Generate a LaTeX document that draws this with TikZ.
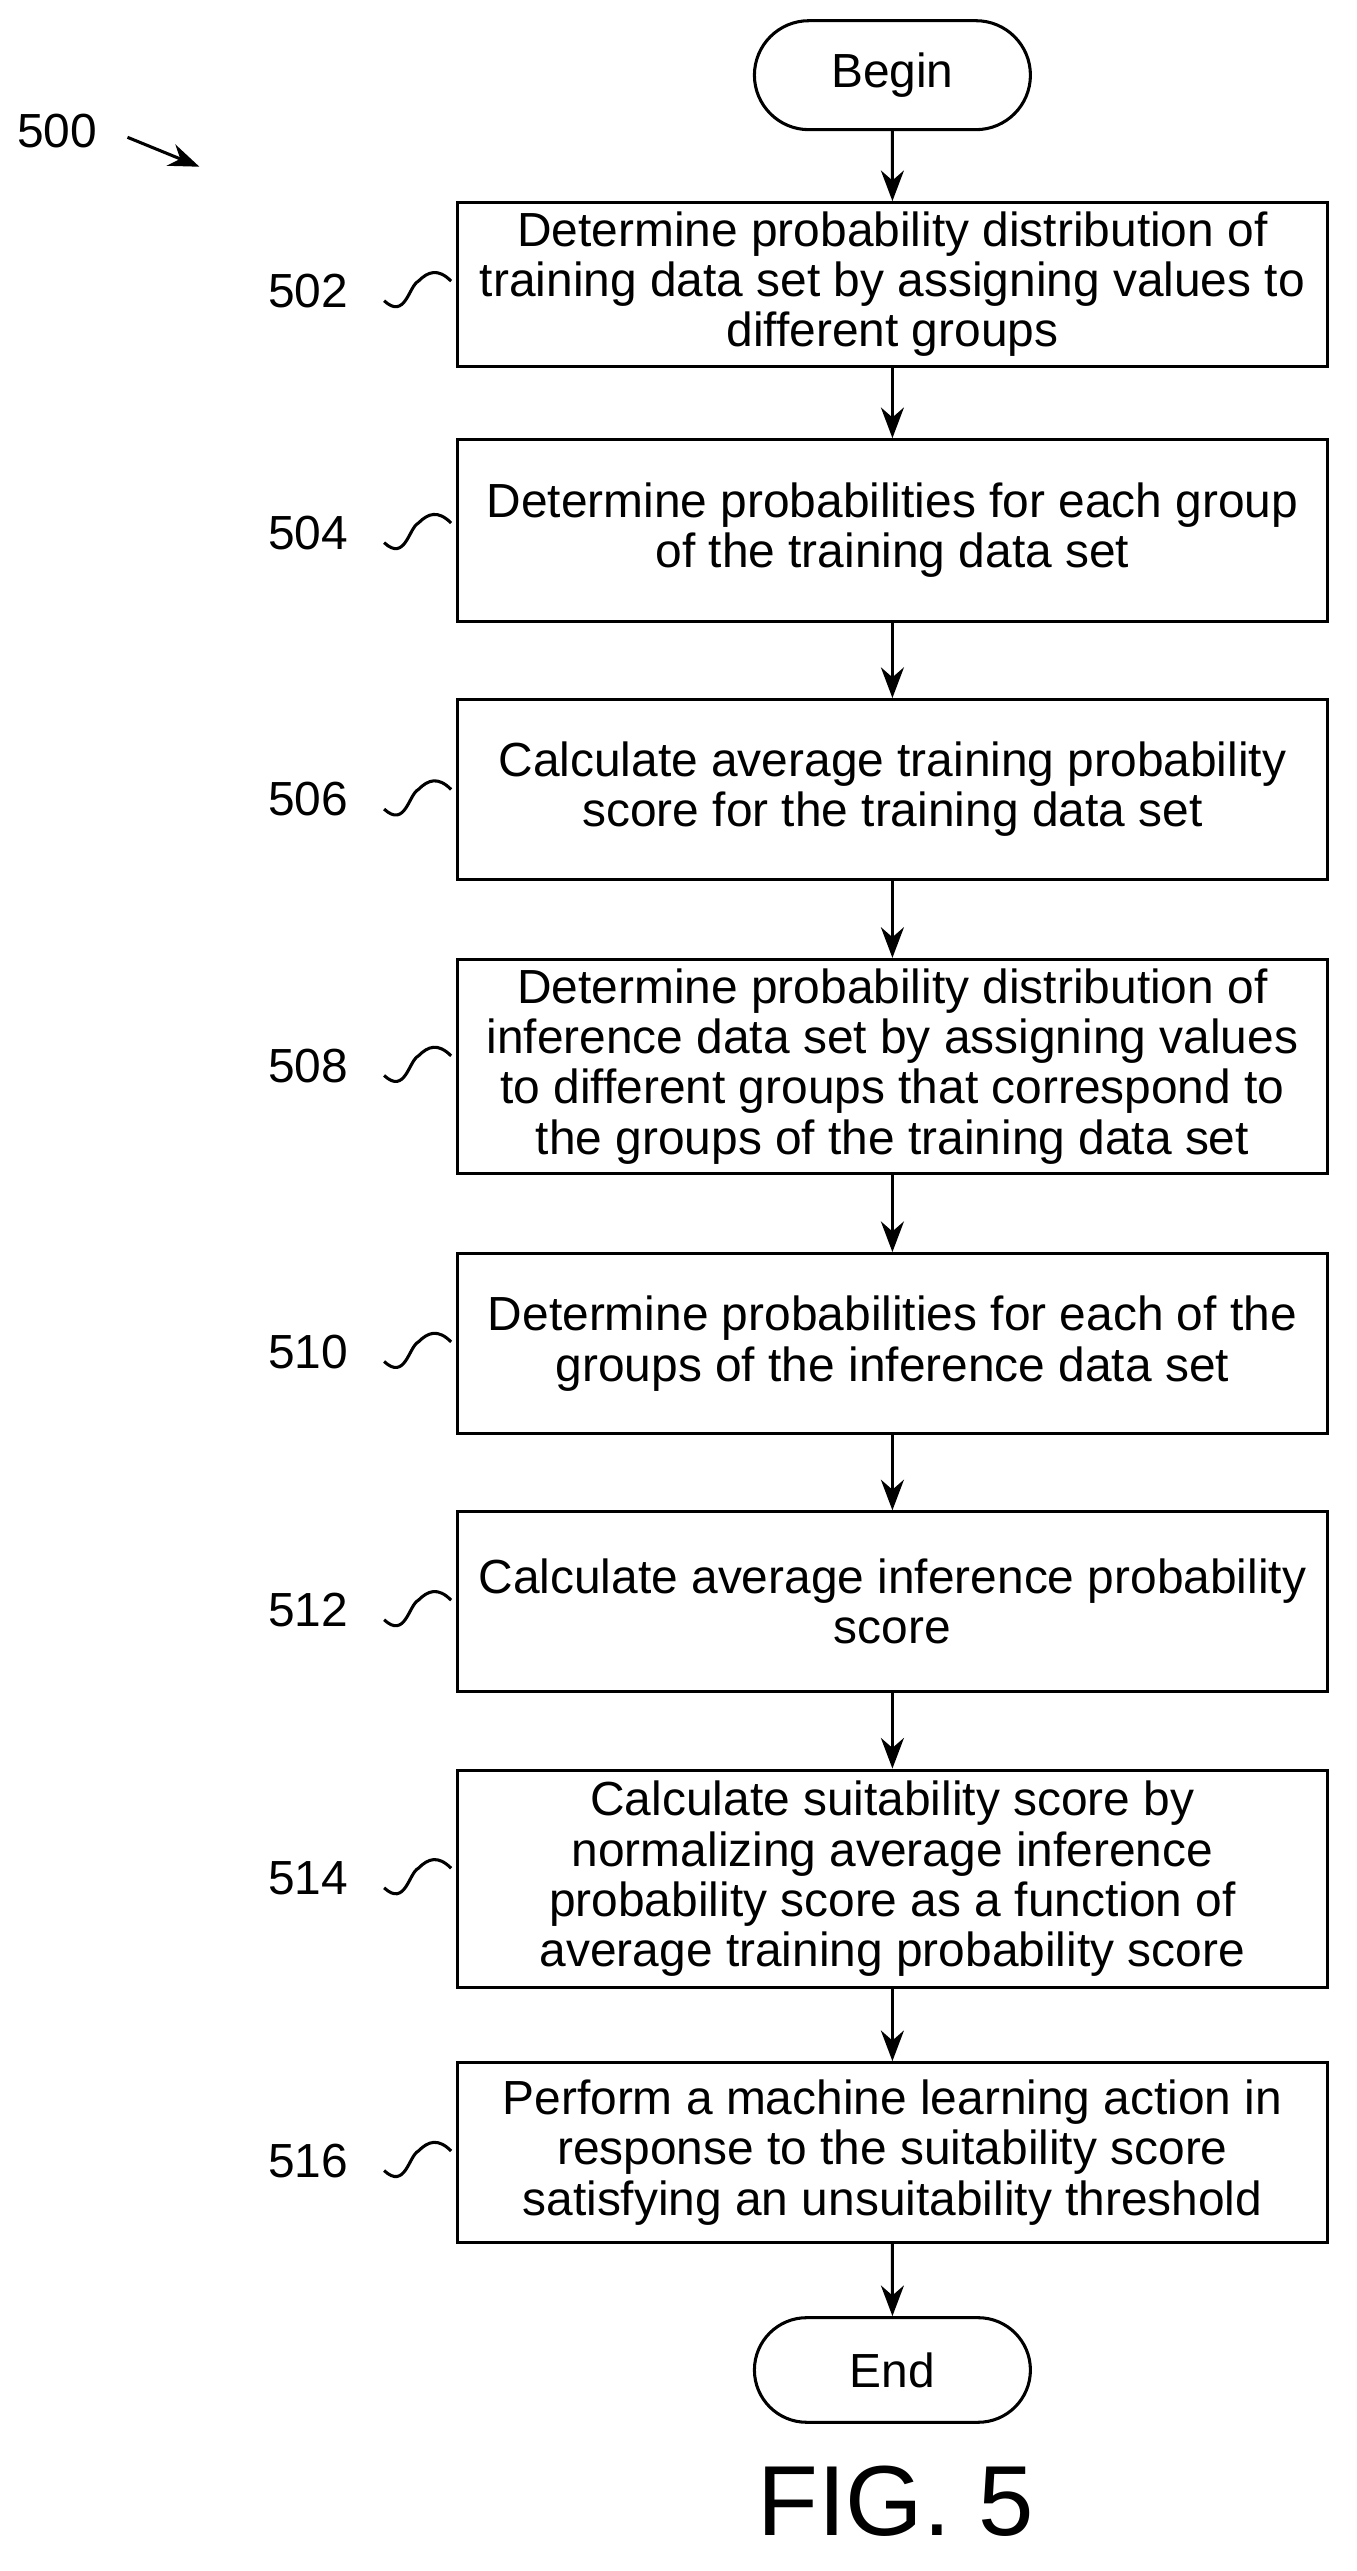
\documentclass[tikz,border=0pt]{standalone}
\usepackage{fontspec}
\setmainfont{Liberation Sans}
\usetikzlibrary{arrows.meta,shapes.misc}
\tikzset{
  stage/.style={draw, line width=1.6pt, minimum width=15.96cm, align=center,
    font=\fontsize{25}{26.2}\selectfont, inner sep=0pt},
  term/.style={draw, line width=1.6pt, rounded rectangle, minimum width=5.3cm,
    minimum height=2cm, font=\fontsize{25}{26.2}\selectfont},
  flow/.style={-{Stealth[length=16pt,width=12pt]}, line width=1.6pt},
  tag/.style={font=\fontsize{25}{26.2}\selectfont},
  wave/.style={line width=1.6pt}
}
\newcommand{\wavy}[2]{%
  \node[tag, anchor=east] at (217,#1) {#2};
  \draw[wave] (235,#1+6) .. controls (248,#1+18) and (250,#1-3) .. (256,#1-6)
     .. controls (262,#1-12) and (268,#1-14) .. (276,#1-6);}
\begin{document}
\begin{tikzpicture}[x=0.03cm, y=-0.03cm]
  \useasboundingbox (0,0) rectangle (830,1573);
  % terminals
  \node[term] (begin) at (546,46) {Begin};
  \node[term, minimum height=1.92cm] (end) at (546,1450) {End};
  % stages
  \node[stage, minimum height=3cm] (s502) at (546,174)
    {Determine probability distribution of\\training data set by assigning values to\\different groups};
  \node[stage, minimum height=3.33cm] (s504) at (546,324.5)
    {Determine probabilities for each group\\of the training data set};
  \node[stage, minimum height=3.3cm] (s506) at (546,483)
    {Calculate average training probability\\score for the training data set};
  \node[stage, minimum height=3.93cm] (s508) at (546,652.5)
    {Determine probability distribution of\\inference data set by assigning values\\to different groups that correspond to\\the groups of the training data set};
  \node[stage, minimum height=3.3cm] (s510) at (546,822)
    {Determine probabilities for each of the\\groups of the inference data set};
  \node[stage, minimum height=3.3cm] (s512) at (546,980)
    {Calculate average inference probability\\score};
  \node[stage, minimum height=3.99cm] (s514) at (546,1149.5)
    {Calculate suitability score by\\normalizing average inference\\probability score as a function of\\average training probability score};
  \node[stage, minimum height=3.3cm] (s516) at (546,1317)
    {Perform a machine learning action in\\response to the suitability score\\satisfying an unsuitability threshold};
  % connectors
  \draw[flow] (begin) -- (s502);
  \draw[flow] (s502) -- (s504);
  \draw[flow] (s504) -- (s506);
  \draw[flow] (s506) -- (s508);
  \draw[flow] (s508) -- (s510);
  \draw[flow] (s510) -- (s512);
  \draw[flow] (s512) -- (s514);
  \draw[flow] (s514) -- (s516);
  \draw[flow] (s516) -- (end);
  % reference numerals
  \wavy{178}{502}
  \wavy{326}{504}
  \wavy{489}{506}
  \wavy{652}{508}
  \wavy{827}{510}
  \wavy{985}{512}
  \wavy{1149}{514}
  \wavy{1322}{516}
  \node[tag] (fig) at (35,80) {500};
  \coordinate (figtip) at (122,102);
  \draw[flow] (78,84) -- (figtip);
  \node[font=\fontsize{52}{58}\selectfont] (caption) at (548,1530) {FIG. 5};
\end{tikzpicture}
\end{document}
